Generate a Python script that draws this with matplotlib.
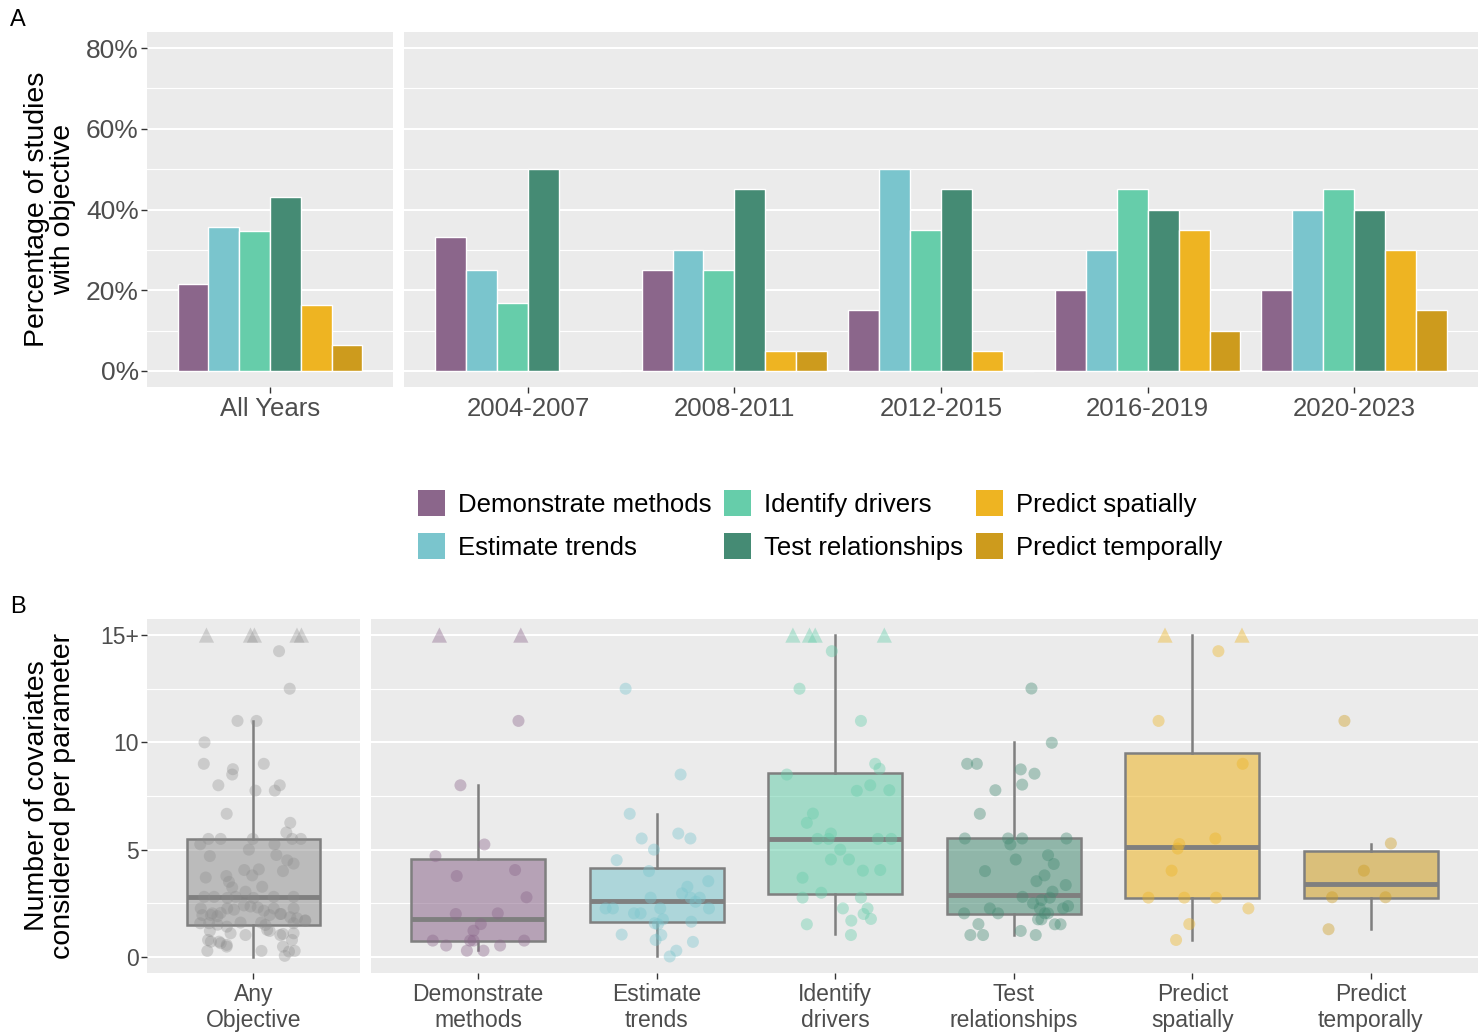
import matplotlib.pyplot as plt
from matplotlib.patches import Patch
from matplotlib.colors import to_rgba
import numpy as np

plt.rcParams['font.family'] = ['Liberation Sans', 'DejaVu Sans']

objectives = ["Demonstrate methods", "Estimate trends", "Identify drivers",
              "Test relationships", "Predict spatially", "Predict temporally"]
obj_ticks = ["Demonstrate\nmethods", "Estimate\ntrends", "Identify\ndrivers",
             "Test\nrelationships", "Predict\nspatially", "Predict\ntemporally"]
colors = ["#8B668B", "#7AC5CD", "#66CDAA", "#458B74", "#EEB422", "#CD9B1D"]

# --- panel A: share of studies with each objective (%)
periods = ["2004-2007", "2008-2011", "2012-2015", "2016-2019", "2020-2023"]
pct_all = [21.5, 35.6, 34.6, 43.2, 16.3, 6.4]
pct_demonstrate = [33.3, 25, 15, 20, 20]
pct_trends = [25, 30, 50, 30, 40]
pct_drivers = [16.7, 25, 35, 45, 45]
pct_relationships = [50, 45, 45, 40, 40]
pct_spatial = [0, 5, 5, 35, 30]
pct_temporal = [0, 5, 0, 10, 15]
pct_periods = [pct_demonstrate, pct_trends, pct_drivers,
               pct_relationships, pct_spatial, pct_temporal]

# --- panel B: covariates per parameter (15 = 15 or more), with jitter offsets
cov_any = [15, 15, 15, 15, 15, 14.25, 12.5, 11.0, 11.0, 10.0, 9.0, 9.0, 8.75, 8.5,
           8.0, 8.0, 7.75, 7.75, 6.67, 6.25, 5.8, 5.25, 5.5, 5.5, 5.5, 5.5, 5.5,
           5.25, 5.0, 4.7, 4.75, 4.5, 4.35, 4.05, 4.08, 4.0, 3.7, 3.77, 3.5, 3.8,
           3.27, 3.24, 3.04, 2.8, 2.8, 2.8, 2.8, 2.8, 2.75, 2.75, 2.26, 2.03, 2.26,
           2.2, 2.35, 2.15, 2.26, 2.0, 2.26, 2.4, 2.3, 2.05, 1.95, 1.95, 1.9, 1.95,
           2.0, 1.8, 1.7, 1.85, 1.57, 1.57, 1.5, 1.49, 1.57, 1.69, 1.6, 1.6, 1.41,
           1.26, 1.21, 1.1, 1.02, 1.21, 1.02, 1.1, 1.07, 0.79, 0.71, 0.56, 0.79,
           0.71, 0.64, 0.28, 0.48, 0.28, 0.48, 0.28, 0.05, 0.25]
jit_any = [-0.265, -0.017, 0.005, 0.245, 0.27, 0.144, 0.204, -0.09, 0.017, -0.276,
           -0.28, 0.058, -0.116, -0.12, -0.198, 0.148, 0.12, 0.011, -0.151, 0.207,
           0.185, -0.3, -0.254, -0.185, -0.004, 0.218, 0.267, 0.118, -0.026,
           -0.246, 0.129, 0.19, 0.226, -0.052, 0.03, 0.166, -0.269, -0.153, -0.138,
           -0.007, 0.049, -0.12, -0.045, -0.278, -0.222, -0.101, 0.114, 0.226,
           -0.147, 0.0, -0.297, -0.232, -0.148, -0.11, -0.017, 0.058, 0.114, 0.155,
           0.226, -0.054, 0.024, -0.185, -0.288, -0.24, -0.203, 0.091, 0.151,
           0.245, 0.291, 0.207, -0.30, -0.25, -0.203, 0.067, 0.226, 0.292, -0.073,
           0.043, -0.15, 0.077, -0.246, -0.129, -0.045, 0.091, 0.151, 0.226, 0.166,
           -0.256, -0.194, -0.151, 0.217, -0.24, -0.185, -0.26, -0.151, 0.045,
           0.166, 0.232, 0.176, 0.2]

cov_dem = [15, 15, 11.0, 8.0, 5.24, 4.7, 3.77, 4.05, 2.78, 2.0, 2.03, 1.53, 1.22,
           0.76, 0.53, 0.76, 0.76, 0.76, 0.53, 0.29, 0.29]
jit_dem = [-0.217, 0.239, 0.226, -0.099, 0.035, -0.239, -0.12, 0.207, 0.271,
           -0.125, 0.11, 0.015, -0.026, -0.254, -0.179, -0.045, -0.026, 0.258,
           0.123, -0.063, 0.03]

cov_est = [12.5, 8.5, 6.67, 5.52, 5.75, 5.52, 5.0, 4.51, 4.0, 3.53, 3.27, 2.96,
           2.76, 2.76, 2.57, 2.76, 2.26, 2.26, 2.26, 2.03, 2.03, 1.75, 1.52, 1.57,
           1.64, 2.26, 1.04, 1.02, 0.79, 0.7, 0.29, 0.02]
jit_est = [-0.174, 0.134, -0.151, -0.084, 0.121, 0.189, -0.015, -0.224, -0.043,
           0.289, 0.172, 0.142, 0.19, 0.241, 0.218, -0.034, -0.286, -0.245, 0.02,
           -0.127, -0.09, 0.035, 0.007, -0.011, 0.194, 0.293, -0.196, 0.026,
           -0.006, 0.203, 0.11, 0.073]

cov_drv = [15, 15, 15, 15, 14.25, 12.5, 11.0, 9.0, 8.77, 8.5, 8.0, 7.74, 7.77,
           6.68, 6.25, 5.75, 5.5, 5.5, 5.5, 5.5, 5.0, 4.54, 4.54, 4.02, 4.05, 3.69,
           2.99, 2.76, 2.76, 2.26, 2.26, 2.0, 1.77, 1.69, 1.52, 1.02]
jit_drv = [-0.237, -0.144, -0.112, 0.275, -0.019, -0.2, 0.144, 0.224, 0.248,
           -0.271, 0.196, 0.121, 0.303, -0.125, -0.159, -0.024, -0.099, -0.037,
           0.239, 0.314, 0.028, -0.024, 0.077, 0.155, 0.252, -0.183, -0.078,
           -0.183, 0.144, 0.043, 0.181, 0.159, 0.2, 0.09, -0.159, 0.088]

cov_rel = [12.51, 9.98, 9.0, 9.0, 8.74, 8.54, 8.03, 7.77, 6.67, 5.52, 5.52, 5.52,
           5.52, 5.24, 4.74, 4.33, 4.54, 4.0, 3.8, 3.53, 3.35, 3.04, 2.76, 2.8,
           2.65, 2.5, 2.26, 2.37, 2.26, 2.26, 2.03, 2.03, 2.03, 2.03, 1.75, 1.75,
           1.53, 1.52, 1.52, 1.02, 1.02, 1.21, 1.02]
jit_rel = [0.099, 0.213, -0.261, -0.207, 0.039, 0.116, 0.047, -0.103, -0.19,
           -0.274, -0.032, 0.047, 0.295, -0.019, 0.192, 0.224, 0.011, -0.161,
           0.172, 0.127, 0.291, 0.217, 0.202, 0.049, 0.155, 0.108, 0.146, 0.304,
           0.276, -0.134, -0.088, -0.278, 0.174, 0.192, 0.136, 0.155, -0.198,
           0.23, 0.262, -0.243, -0.172, 0.039, 0.123]

cov_spa = [15, 15, 14.25, 11.0, 9.0, 5.52, 5.26, 5.05, 4.02, 2.76, 2.76, 2.76,
           2.26, 1.53, 0.79]
jit_spa = [-0.153, 0.278, 0.146, -0.189, 0.282, 0.129, -0.073, -0.082, -0.116,
           -0.246, -0.045, 0.133, 0.314, -0.017, -0.091]

cov_tem = [11.0, 5.29, 4.02, 2.78, 2.78, 1.29]
jit_tem = [-0.148, 0.112, -0.039, -0.217, 0.082, -0.237]

# box summaries: Any Objective, then the six objectives
box_lo = [0.0, 0.33, 0.05, 1.07, 1.0, 0.79, 1.29]
box_q1 = [1.5, 0.75, 1.63, 2.94, 2.0, 2.76, 2.76]
box_med = [2.8, 1.75, 2.6, 5.5, 2.88, 5.13, 3.4]
box_q3 = [5.5, 4.56, 4.15, 8.57, 5.52, 9.5, 4.95]
box_hi = [11.0, 8.0, 6.65, 15.0, 10.0, 15.0, 5.25]

W, H = 1478, 1034
fig = plt.figure(figsize=(W / 100, H / 100), dpi=100)
BG = "#EBEBEB"
TXT = "#4D4D4D"
EDGE = "#7F7F7F"


def add_ax(x0, y0, x1, y1):
    return fig.add_axes([x0 / W, 1 - y1 / H, (x1 - x0) / W, (y1 - y0) / H])


def style(ax, yticks, yminor, ylabels, tick_fs, show_y):
    ax.set_facecolor(BG)
    for s in ax.spines.values():
        s.set_visible(False)
    ax.set_yticks(yticks)
    ax.set_yticks(yminor, minor=True)
    ax.grid(which='major', axis='y', color='white', linewidth=1.5)
    ax.grid(which='minor', axis='y', color='white', linewidth=0.8)
    ax.set_axisbelow(True)
    ax.tick_params(which='minor', length=0)
    ax.tick_params(axis='x', length=4, width=1, color='#333333', labelcolor=TXT,
                   pad=3, labelsize=tick_fs[0])
    if show_y:
        ax.set_yticklabels(ylabels)
        ax.tick_params(axis='y', length=4, width=1, color='#333333',
                       labelcolor=TXT, pad=2, labelsize=tick_fs[1])
    else:
        ax.tick_params(axis='y', length=0, labelleft=False)


# ---------------- panel A
bw = 0.15
offs = (np.arange(6) - 2.5) * bw
a1 = add_ax(147, 32, 393, 387)
a2 = add_ax(404, 32, 1478, 387)
for i in range(6):
    a1.bar([1 + offs[i]], [pct_all[i]], width=bw, color=colors[i],
           edgecolor='white', linewidth=1)
    xs = np.arange(1, len(periods) + 1) + offs[i]
    a2.bar(xs, pct_periods[i], width=bw, color=colors[i],
           edgecolor='white', linewidth=1)
pct_major = [0, 20, 40, 60, 80]
pct_minor = [10, 30, 50, 70]
for ax, cats in [(a1, ["All Years"]), (a2, periods)]:
    ax.set_xlim(0.4, len(cats) + 0.6)
    ax.set_ylim(-4, 84)
    ax.set_xticks(np.arange(1, len(cats) + 1))
    ax.set_xticklabels(cats)
    style(ax, pct_major, pct_minor, [f"{v}%" for v in pct_major], (18.5, 19),
          ax is a1)

fig.text(50 / W, 1 - 209 / H, "Percentage of studies\nwith objective",
         rotation=90, ha='center', va='center', fontsize=20.5, linespacing=1.0)
fig.text(18 / W, 1 - 20 / H, "A", ha='center', va='center', fontsize=17)

# legend
handles = [Patch(facecolor=c, edgecolor='none') for c in colors]
fig.legend(handles, objectives, ncol=3, loc='center',
           bbox_to_anchor=(820 / W, 1 - 525 / H), frameon=False, fontsize=18.5,
           handlelength=1.05, handleheight=1.15, handletextpad=0.5,
           columnspacing=0.5, labelspacing=0.65)

# ---------------- panel B
b1 = add_ax(147, 619, 360, 973)
b2 = add_ax(371, 619, 1478, 973)
groups = [(cov_any, jit_any), (cov_dem, jit_dem), (cov_est, jit_est),
          (cov_drv, jit_drv), (cov_rel, jit_rel), (cov_spa, jit_spa),
          (cov_tem, jit_tem)]
gcolors = ["#8C8C8C"] + colors
box_alpha = [0.5] + [0.55] * 6
pt_alpha = [0.33] + [0.4] * 6

for k in range(7):
    ax = b1 if k == 0 else b2
    pos = 1 if k == 0 else k
    stats = [dict(med=box_med[k], q1=box_q1[k], q3=box_q3[k],
                  whislo=box_lo[k], whishi=box_hi[k], fliers=[])]
    bp = ax.bxp(stats, positions=[pos], widths=0.75, patch_artist=True,
                showfliers=False, showcaps=False,
                boxprops=dict(edgecolor=EDGE, linewidth=1.8),
                whiskerprops=dict(color=EDGE, linewidth=1.8),
                medianprops=dict(color=EDGE, linewidth=3.5))
    bp['boxes'][0].set_facecolor(to_rgba(gcolors[k], box_alpha[k]))
    bp['boxes'][0].set_edgecolor(EDGE)

    y = np.array(groups[k][0])
    x = pos + np.array(groups[k][1])
    top = y >= 15
    ax.scatter(x[~top], y[~top], s=75, color=gcolors[k], alpha=pt_alpha[k],
               edgecolors='none', zorder=3)
    ax.scatter(x[top], y[top], s=120, marker='^', color=gcolors[k],
               alpha=pt_alpha[k], edgecolors='none', zorder=3)

cov_major = [0, 5, 10, 15]
cov_minor = [2.5, 7.5, 12.5]
for ax, cats in [(b1, ["Any\nObjective"]), (b2, obj_ticks)]:
    ax.set_xlim(0.4, len(cats) + 0.6)
    ax.set_ylim(-0.75, 15.75)
    ax.set_xticks(np.arange(1, len(cats) + 1))
    ax.set_xticklabels(cats, linespacing=1.2)
    style(ax, cov_major, cov_minor, ["0", "5", "10", "15+"], (16.5, 16.5),
          ax is b1)

fig.text(50 / W, 1 - 796 / H, "Number of covariates\nconsidered per parameter",
         rotation=90, ha='center', va='center', fontsize=20.5, linespacing=1.0)
fig.text(18 / W, 1 - 607 / H, "B", ha='center', va='center', fontsize=17)

fig.savefig("out.png", dpi=100, facecolor='white')
